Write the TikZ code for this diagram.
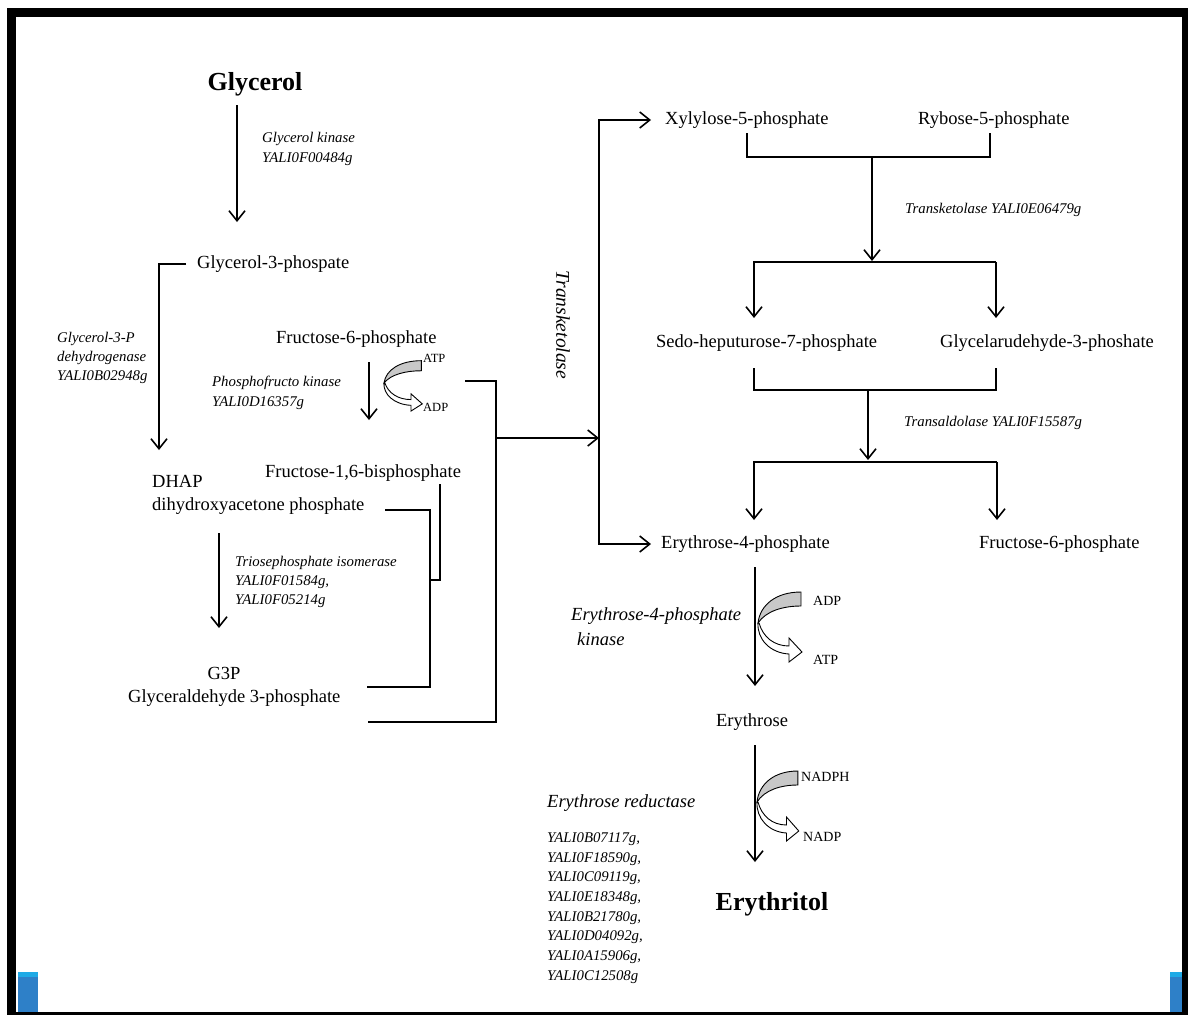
\documentclass[tikz,border=0pt]{standalone}
\usepackage{fontspec}
\setmainfont{Liberation Serif}
\usetikzlibrary{arrows.meta,calc}
\definecolor{bandgray}{RGB}{200,200,200}
\definecolor{barblue}{RGB}{46,128,200}
\definecolor{barcyan}{RGB}{30,170,230}
\begin{document}
\begin{tikzpicture}[x=1pt,y=-1pt,
  lbl/.style={inner sep=0pt, font=\fontsize{18.5}{22}\selectfont},
  big/.style={inner sep=0pt, font=\fontsize{26}{30}\selectfont\bfseries},
  enz/.style={inner sep=0pt, align=left, font=\fontsize{14.8}{19.3}\selectfont\itshape},
  enzl/.style={inner sep=0pt, align=left, font=\fontsize{18.5}{25}\selectfont\itshape},
  cof/.style={inner sep=0pt, font=\fontsize{14}{16}\selectfont},
  conn/.style={line width=1.6pt},
  arr/.style={conn, -{Straight Barb[length=10pt,width=16pt]}},
  cofarrow/.pic={
    \filldraw[fill=bandgray, draw=black, line width=0.9pt]
      (0,0) .. controls (2,-18) and (18,-31) .. (43,-31) -- (43,-17)
      .. controls (25,-17) and (8,-12) .. (0,0) -- cycle;
    \filldraw[fill=white, draw=black, line width=0.9pt]
      (1,0) .. controls (5,14) and (16,23) .. (31,23) -- (31,15) -- (44,29)
      -- (31,39) -- (31,31) .. controls (12,30) and (-1,16) .. (0,0) -- cycle;
  }]
\useasboundingbox (0,0) rectangle (1188,1015);
% frame
\fill[white] (0,0) rectangle (1188,1015);
\fill[black] (7,8) rectangle (1188,1015);
\fill[white] (16,17) rectangle (1182,1012);
\fill[barblue] (18,972) rectangle (38,1012);
\fill[barcyan] (18,972) rectangle (38,977);
\fill[barblue] (1170,972) rectangle (1182,1012);
\fill[barcyan] (1170,972) rectangle (1182,977);

% left column
\node[big] (glyc) at (255,84) {Glycerol};
\node[enz, anchor=west] (gk) at (262,149) {Glycerol kinase\\YALI0F00484g};
\node[lbl, anchor=west] (g3p) at (197,264) {Glycerol-3-phospate};
\node[enz, anchor=west] (g3pdh) at (57,358) {Glycerol-3-P\\dehydrogenase\\YALI0B02948g};
\node[lbl, anchor=west] (f6p) at (276,339) {Fructose-6-phosphate};
\node[enz, anchor=west] (pfk) at (212,393) {Phosphofructo kinase\\YALI0D16357g};
\node[cof, font=\fontsize{12.5}{14}\selectfont, anchor=west] (atp1) at (423,358) {ATP};
\node[cof, font=\fontsize{12.5}{14}\selectfont, anchor=west] (adp1) at (423,407) {ADP};
\node[lbl, anchor=west] (f16) at (265,473) {Fructose-1,6-bisphosphate};
\node[lbl, anchor=west] (dhap) at (152,481) {DHAP};
\node[lbl, anchor=west] (dhapf) at (152,506) {dihydroxyacetone phosphate};
\node[enz, anchor=west] (tim) at (235,582) {Triosephosphate isomerase\\YALI0F01584g,\\YALI0F05214g};
\node[lbl] (g3pb) at (224,673) {G3P};
\node[lbl, anchor=west] (gap) at (128,698) {Glyceraldehyde 3-phosphate};
\node[inner sep=0pt, font=\fontsize{19.5}{22}\selectfont\itshape, rotate=-90] (tk) at (563,325) {Transketolase};

% right column
\node[lbl, anchor=west] (xyl) at (665,120) {Xylylose-5-phosphate};
\node[lbl, anchor=west] (ryb) at (918,120) {Rybose-5-phosphate};
\node[enz, anchor=west] (tkl) at (905,210) {Transketolase YALI0E06479g};
\node[lbl, anchor=west] (sedo) at (656,343) {Sedo-heputurose-7-phosphate};
\node[lbl, anchor=west] (gly3) at (940,343) {Glycelarudehyde-3-phoshate};
\node[enz, anchor=west] (tal) at (904,423) {Transaldolase YALI0F15587g};
\node[lbl, anchor=west] (e4p) at (661,544) {Erythrose-4-phosphate};
\node[lbl, anchor=west] (f6pb) at (979,544) {Fructose-6-phosphate};
\node[enzl, anchor=west] (e4pk) at (571,627) {Erythrose-4-phosphate\\\hspace*{6pt}kinase};
\node[cof, anchor=west] (adp2) at (813,601) {ADP};
\node[cof, anchor=west] (atp2) at (813,660) {ATP};
\node[lbl] (ery) at (752,722) {Erythrose};
\node[cof, anchor=west] (nadph) at (801,777) {NADPH};
\node[cof, anchor=west] (nadp) at (803,837) {NADP};
\node[enzl, anchor=west] (er) at (547,803) {Erythrose reductase};
\node[enz, font=\fontsize{14.8}{19.7}\selectfont\itshape, anchor=west] (yl) at (547,908)
  {YALI0B07117g,\\YALI0F18590g,\\YALI0C09119g,\\YALI0E18348g,\\YALI0B21780g,\\YALI0D04092g,\\YALI0A15906g,\\YALI0C12508g};
\node[big] (eryt) at (772,904) {Erythritol};

% connectors, left
\draw[arr] ($(glyc.center)+(-18,21)$) -- ++(0,117);
\draw[arr] ($(g3p.west)+(-11,0)$) -- ++(-27,0) -- ++(0,186);
\draw[arr] ($(f6p.west)+(93,23)$) -- ++(0,58);
\draw[conn] ($(atp1.west)+(42,23)$) -- ++(31,0) coordinate (jtop) -- ++(0,341) -- ++(-128,0);
\coordinate (jn) at ($(jtop)+(0,57)$);
\coordinate (tkm) at ($(jn)+(103,0)$);
\draw[arr] (jn) -- (tkm);
\draw[arr] (tkm) |- ([xshift=-14pt]xyl.west);
\draw[arr] (tkm) |- ([xshift=-10pt]e4p.west);
\draw[conn] ($(dhapf.west)+(233,4)$) -- ++(45,0) -- ++(0,177) -- ++(-63,0);
\draw[conn] ($(f16.west)+(175,11)$) -- ++(0,96) -- ++(-10,0);
\draw[arr] ($(dhapf.west)+(67,27)$) -- ++(0,95);

% connectors, right
\draw[conn] ($(xyl.west)+(82,13)$) -- ++(0,24) -| ($(ryb.west)+(72,13)$);
\draw[arr] ($(xyl.west)+(207,37)$) -- ++(0,104);
\coordinate (s1) at ($(sedo.west)+(98,-81)$);
\coordinate (s2) at ($(gly3.west)+(56,-81)$);
\draw[arr] (s2) -| ($(s1)+(0,56)$);
\draw[arr] (s2) -- ++(0,56);
\draw[conn] ($(sedo.west)+(98,25)$) -- ++(0,22) -| ($(gly3.west)+(56,25)$);
\draw[arr] ($(sedo.west)+(212,47)$) -- ++(0,70);
\coordinate (t1) at ($(e4p.west)+(93,-82)$);
\coordinate (t2) at ($(f6pb.west)+(18,-82)$);
\draw[arr] (t2) -| ($(t1)+(0,58)$);
\draw[arr] (t2) -- ++(0,58);
\draw[arr] ($(e4p.west)+(94,23)$) -- ++(0,119);
\draw[arr] ($(ery.center)+(3,23)$) -- ++(0,117);

% cofactor glyphs
\pic[xscale=0.87,yscale=0.72] (pfkg) at (384,383) {cofarrow};
\pic (e4pg) at (758,623) {cofarrow};
\pic[xscale=0.95] (erg) at (757,802) {cofarrow};
\end{tikzpicture}
\end{document}
